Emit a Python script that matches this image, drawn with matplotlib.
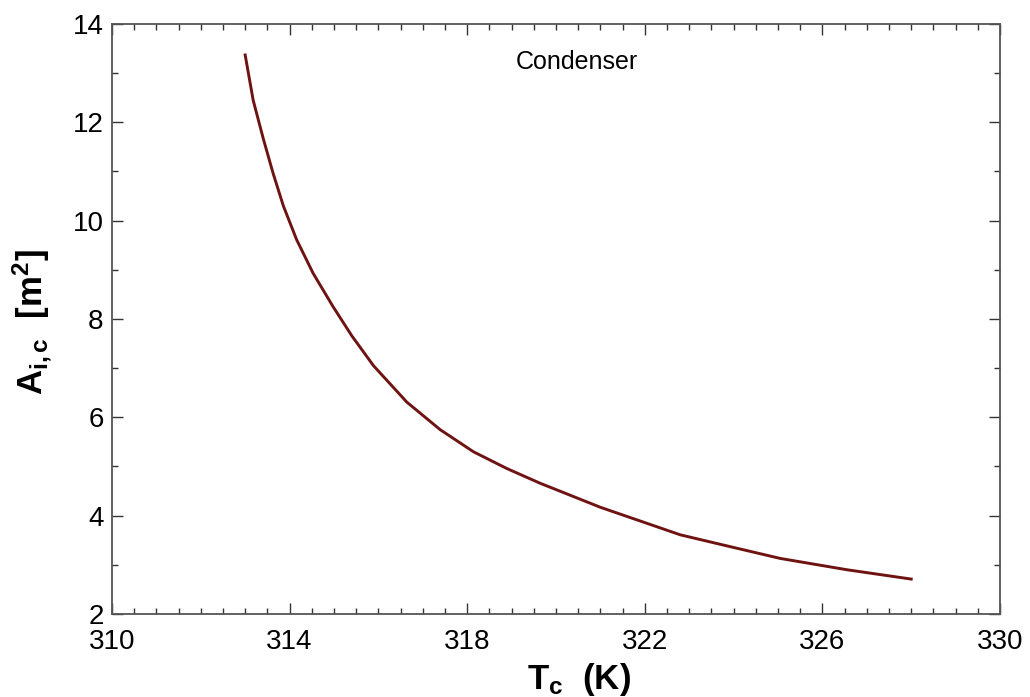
import numpy as np
import matplotlib
matplotlib.use('Agg')
import matplotlib.pyplot as plt
from matplotlib.ticker import MultipleLocator

plt.rcParams['font.family'] = ['Liberation Sans', 'DejaVu Sans']
plt.rcParams['mathtext.fontset'] = 'custom'
plt.rcParams['mathtext.rm'] = 'Liberation Sans'
plt.rcParams['mathtext.it'] = 'Liberation Sans:italic'
plt.rcParams['mathtext.bf'] = 'Liberation Sans:bold'

# condenser temperature (K) and inner area (m^2)
T_c = [313.0, 313.18, 313.41, 313.63, 313.86, 314.16, 314.53, 314.98, 315.40,
       315.89, 316.64, 317.39, 318.14, 318.89, 319.64, 320.39, 321.0, 322.8,
       323.92, 325.05, 326.55, 328.0]
A_ic = [13.37, 12.45, 11.66, 10.96, 10.30, 9.61, 8.93, 8.25, 7.66,
        7.05, 6.31, 5.75, 5.30, 4.96, 4.66, 4.39, 4.17, 3.61,
        3.37, 3.13, 2.90, 2.71]
x_ticks = [310, 314, 318, 322, 326, 330]

fig = plt.figure(figsize=(10.3, 6.97), dpi=100)
ax = fig.add_axes([0.1087, 0.1191, 0.8622, 0.8465])

ax.plot(T_c, A_ic, color='#6e1212', lw=2.1, solid_joinstyle='round')

ax.set_xlim(310, 330)
ax.set_ylim(2, 14)
ax.set_xticks(x_ticks)
ax.xaxis.set_minor_locator(MultipleLocator(0.5))
ax.yaxis.set_major_locator(MultipleLocator(2))
ax.yaxis.set_minor_locator(MultipleLocator(1))

ax.tick_params(which='both', direction='in', top=True, right=True,
               color='#333333', labelsize=20, width=1.0)
ax.tick_params(which='major', length=8)
ax.tick_params(which='minor', length=4.5)
ax.tick_params(axis='x', which='major', pad=11)
ax.tick_params(axis='y', which='major', pad=6)

for s in ax.spines.values():
    s.set_color('#555555')
    s.set_linewidth(1.3)

# axis titles placed by hand, like the original
fig.text(0.562, 1 - 689 / 697, r'$\mathbf{T_c\ \ (K)}$', fontsize=25,
         ha='center', va='baseline')
fig.text(43 / 1030, 1 - 322 / 697, r'$\mathbf{A_{i,c}\ \ [m^2]}$', fontsize=25,
         ha='center', va='baseline', rotation=90, rotation_mode='anchor')

ax.text(0.524, 0.935, 'Condenser', transform=ax.transAxes, fontsize=18,
        ha='center', va='center')

fig.savefig('out.png', dpi=100)
